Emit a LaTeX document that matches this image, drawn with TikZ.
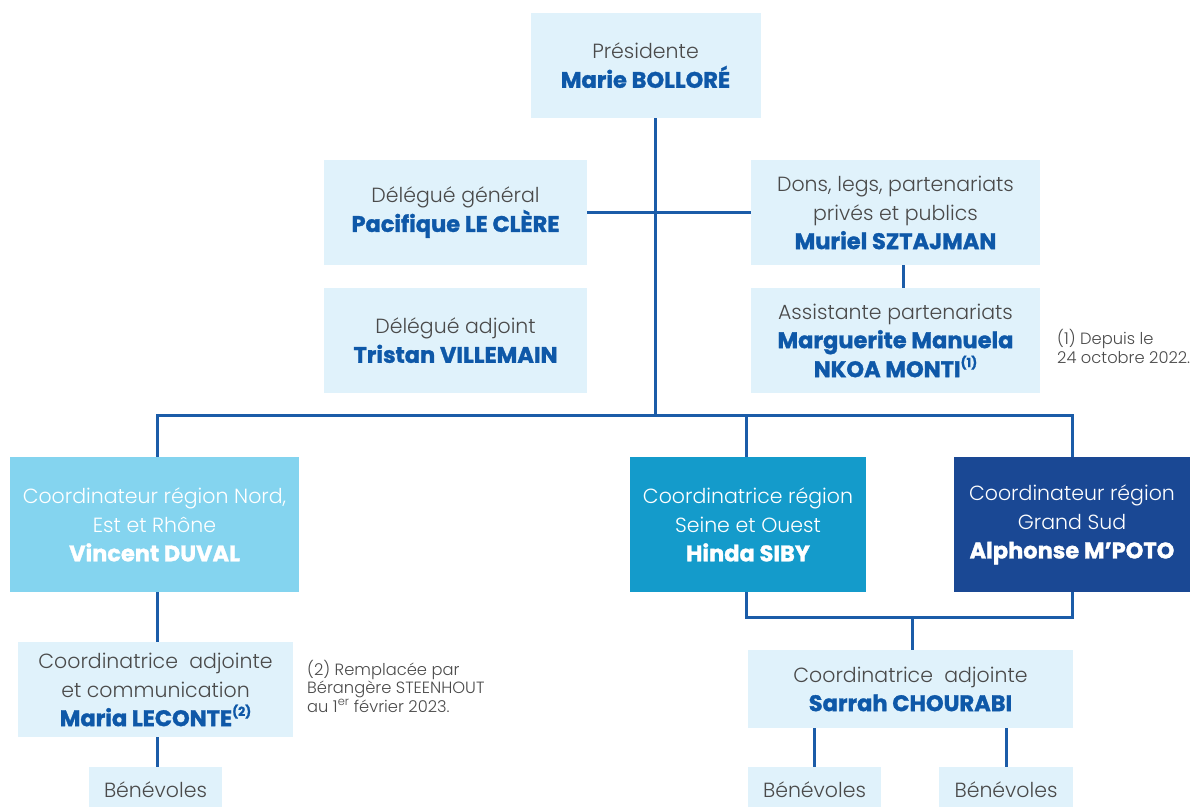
\documentclass[tikz,border=0pt]{standalone}
\usepackage{fontspec}
\setmainfont{Poppins}[UprightFont=* Light, BoldFont=* Bold]
\newfontfamily\heavyfont{Poppins}[FakeBold=1.4]
\definecolor{lightbg}{HTML}{E0F2FB}
\definecolor{nameblue}{HTML}{0E58A8}
\definecolor{lineblue}{HTML}{1B5CA8}
\definecolor{txtgray}{HTML}{4A4A4A}
\definecolor{nordbg}{HTML}{84D4EF}
\definecolor{seinebg}{HTML}{149BCB}
\definecolor{sudbg}{HTML}{1A4894}
\newcommand{\pname}[1]{{\heavyfont\bfseries\fontsize{22.5}{29}\selectfont\color{nameblue}#1}}
\newcommand{\wname}[1]{{\heavyfont\bfseries\fontsize{22.5}{29}\selectfont #1}}
\newcommand{\fnm}[1]{\raisebox{0.45em}{\heavyfont\bfseries\fontsize{12.5}{12}\selectfont #1}}
\begin{document}
\begin{tikzpicture}[x=1pt,y=-1pt,
  box/.style={fill=lightbg, inner sep=0pt, align=center, text=txtgray,
    font=\fontsize{20.5}{29}\selectfont},
  cbox/.style={inner sep=0pt, align=center, text=white,
    font=\fontsize{20.5}{29}\selectfont},
  conn/.style={draw=lineblue, line width=3pt},
  note/.style={inner sep=0pt, align=left, text=txtgray, anchor=base west,
    font=\fontsize{16.3}{18.5}\selectfont}]
\useasboundingbox (0,0) rectangle (1196,806);
% boxes
\node[box, minimum width=230, minimum height=105] (pres) at (645.5,65.5) {Présidente\\\pname{Marie BOLLORÉ}};
\node[box, minimum width=263, minimum height=105] (dg) at (455.5,212.5) {Délégué général\\\pname{Pacifique LE CLÈRE}};
\node[box, minimum width=289, minimum height=105] (dons) at (895.5,212.5) {Dons, legs, partenariats\\privés et publics\\\pname{Muriel SZTAJMAN}};
\node[box, minimum width=263, minimum height=105] (da) at (455.5,340.5) {Délégué adjoint\\\pname{Tristan VILLEMAIN}};
\node[box, minimum width=289, minimum height=105] (asst) at (895.5,340.5) {Assistante partenariats\\\pname{Marguerite Manuela}\\\pname{NKOA MONTI\fnm{(1)}}};
\node[cbox, fill=nordbg, minimum width=289, minimum height=135] (nord) at (154.5,524.5) {Coordinateur région Nord,\\Est et Rhône\\\wname{Vincent DUVAL}};
\node[cbox, fill=seinebg, minimum width=236, minimum height=135] (seine) at (748,524.5) {Coordinatrice région\\Seine et Ouest\\\wname{Hinda SIBY}};
\node[cbox, fill=sudbg, minimum width=236, minimum height=135] (sud) at (1072,524.5) {Coordinateur région\\Grand Sud\\\wname{Alphonse M’POTO}};
\node[box, minimum width=275, minimum height=95] (adjL) at (155.5,689.5) {Coordinatrice~ adjointe\\et communication\\\pname{Maria LECONTE\fnm{(2)}}};
\node[box, minimum width=133, minimum height=46] (benL) at (155.5,790) {Bénévoles};
\node[box, minimum width=325, minimum height=78] (adjR) at (910.5,689) {Coordinatrice~ adjointe\\\pname{Sarrah CHOURABI}};
\node[box, minimum width=133, minimum height=46] (benR1) at (814.5,790) {Bénévoles};
\node[box, minimum width=134, minimum height=46] (benR2) at (1006,790) {Bénévoles};
% notes (anchor = baseline of the last line)
\node[note] (n1) at (1057,363) {(1) Depuis le\\24 octobre 2022.};
\node[note] (n2) at (307,712) {(2) Remplacée par\\Bérangère STEENHOUT\\au 1\textsuperscript{er} février 2023.};
% junction coordinates
\coordinate (jtop) at (655,415);
\coordinate (bL) at (157,415);
\coordinate (bM) at (746,415);
\coordinate (bR) at (1072,415);
\coordinate (sL) at (746,617);
\coordinate (sR) at (1072,617);
\coordinate (sM) at (912,617);
% connectors
\draw[conn] (pres.south -| jtop) -- (jtop);
\draw[conn] (dg.east) -- (dons.west);
\draw[conn] ([xshift=7.5pt]dons.south) -- ([xshift=7.5pt]asst.north);
\draw[conn] (nord.north -| bL) -- (bL) -- (bR) -- (sud.north -| bR);
\draw[conn] (bM) -- (seine.north -| bM);
\draw[conn] (nord.south -| bL) -- (adjL.north -| bL);
\draw[conn] (adjL.south -| bL) -- (benL.north -| bL);
\draw[conn] (seine.south -| sL) -- (sL) -- (sR) -- (sud.south -| sR);
\draw[conn] (sM) -- (adjR.north -| sM);
\draw[conn] ([xshift=-96pt]adjR.south) -- (benR1.north);
\draw[conn] (adjR.south -| benR2.north) -- (benR2.north);
\end{tikzpicture}
\end{document}
